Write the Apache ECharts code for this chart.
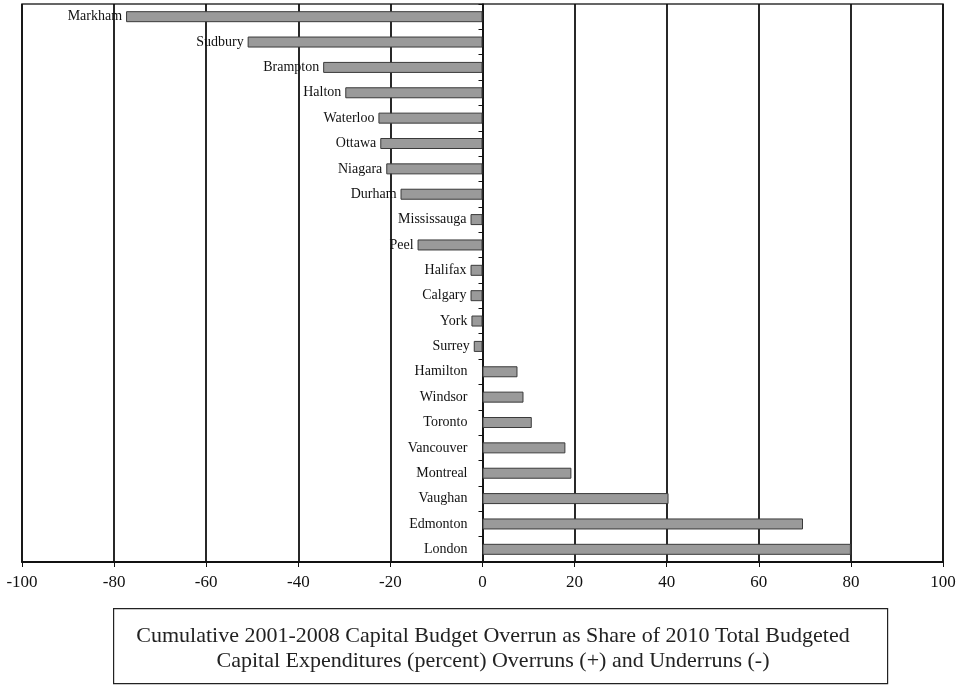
<!DOCTYPE html>
<html>
<head>
<meta charset="utf-8">
<script src="https://cdn.jsdelivr.net/npm/echarts@6/dist/echarts.min.js"></script>
<style>
  html, body { margin: 0; padding: 0; background: #fff; }
  #chart { width: 963px; height: 690px; }
</style>
</head>
<body>
<div id="chart"></div>
<script>
const cities = [
  "Markham", "Sudbury", "Brampton", "Halton", "Waterloo", "Ottawa", "Niagara",
  "Durham", "Mississauga", "Peel", "Halifax", "Calgary", "York", "Surrey",
  "Hamilton", "Windsor", "Toronto", "Vancouver", "Montreal", "Vaughan",
  "Edmonton", "London"
];
// overrun (+) / underrun (-), percent
const overrun = [
  -77.4, -51, -34.6, -29.8, -22.6, -22.2, -20.9,
  -17.8, -2.6, -14.1, -2.6, -2.6, -2.4, -1.9,
  7.6, 8.9, 10.7, 18, 19.3, 40.4,
  69.6, 80
];
const captionLines = [
  "Cumulative 2001-2008 Capital Budget Overrun as Share of 2010 Total Budgeted",
  "Capital Expenditures (percent) Overruns (+) and Underruns (-)"
];

const serif = "'Liberation Serif', 'DejaVu Serif', serif";
const el = echarts.init(document.getElementById("chart"));

// positive bars have their name a bit further off the axis
const barData = overrun.map(function (v) {
  return { value: v, label: { distance: v < 0 ? 4 : 15 } };
});

const options = {
  animation: false,
  backgroundColor: "#fff",
  grid: {
    left: 22,
    right: 20,
    top: 4,
    bottom: 128,
    show: true,
    borderColor: "#333",
    borderWidth: 1.5
  },
  xAxis: {
    type: "value",
    min: -100,
    max: 100,
    interval: 20,
    axisLine: { show: true, onZero: false, lineStyle: { color: "#111", width: 2 } },
    axisTick: { show: true, length: 5, lineStyle: { color: "#111" } },
    axisLabel: { color: "#111", fontFamily: serif, fontSize: 17, margin: 12 },
    splitLine: { show: true, lineStyle: { color: "#111", width: 1.8 } }
  },
  yAxis: {
    type: "category",
    data: cities,
    inverse: true,
    axisLine: { show: true, onZero: true, lineStyle: { color: "#111", width: 1.5 } },
    axisTick: { show: true, length: 4, lineStyle: { color: "#111" } },
    axisLabel: { show: false },
    splitLine: { show: false }
  },
  series: [
    {
      type: "bar",
      data: barData,
      barWidth: 11,
      itemStyle: {
        color: "#9a9a9a",
        borderColor: "#3a3a3a",
        borderWidth: 1
      },
      label: {
        show: true,
        position: "left",
        formatter: "{b}",
        color: "#111",
        fontFamily: serif,
        fontSize: 14
      }
    }
  ],
  graphic: [
    {
      type: "rect",
      left: 113,
      top: 608,
      shape: { width: 774, height: 75 },
      style: { fill: "#fff", stroke: "#222", lineWidth: 1.2 }
    },
    {
      type: "text",
      x: 493,
      y: 624,
      style: {
        text: captionLines.join("\n"),
        fill: "#222",
        font: "22px " + serif,
        textAlign: "center",
        lineHeight: 25
      }
    }
  ]
};

el.setOption(options);
</script>
</body>
</html>
